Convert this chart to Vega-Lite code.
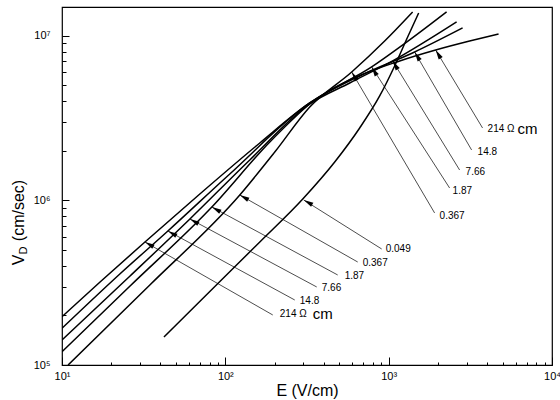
{
  "$schema": "https://vega.github.io/schema/vega-lite/v6.json",
  "width": 490,
  "height": 358,
  "autosize": {"type": "none"},
  "padding": {"left": 62, "top": 7, "right": 8, "bottom": 35},
  "background": "white",
  "config": {
    "font": "Liberation Sans",
    "view": {"stroke": "black", "strokeWidth": 1.2},
    "axis": {
      "domain": false,
      "grid": false,
      "tickColor": "black",
      "tickWidth": 1,
      "labelColor": "black",
      "titleColor": "black",
      "labelFont": "Liberation Sans",
      "titleFont": "Liberation Sans",
      "titleFontWeight": "normal"
    }
  },
  "datasets": {
    "curves": [
      {"rho": "214", "E": 10, "v": 196600},
      {"rho": "214", "E": 17.1, "v": 319600},
      {"rho": "214", "E": 32.2, "v": 559400},
      {"rho": "214", "E": 69.8, "v": 1095000},
      {"rho": "214", "E": 162.6, "v": 2237000},
      {"rho": "214", "E": 328.7, "v": 3915000},
      {"rho": "214", "E": 577.5, "v": 5400000},
      {"rho": "214", "E": 1168, "v": 7050000},
      {"rho": "214", "E": 1939, "v": 8220000},
      {"rho": "214", "E": 3130, "v": 9320000},
      {"rho": "214", "E": 4708, "v": 10290000},

      {"rho": "14.8", "E": 10, "v": 167200},
      {"rho": "14.8", "E": 22.6, "v": 357400},
      {"rho": "14.8", "E": 44.5, "v": 652600},
      {"rho": "14.8", "E": 106.5, "v": 1449000},
      {"rho": "14.8", "E": 328.7, "v": 3915000},
      {"rho": "14.8", "E": 664.6, "v": 5710000},
      {"rho": "14.8", "E": 1442, "v": 7990000},
      {"rho": "14.8", "E": 2836, "v": 11190000},

      {"rho": "7.66", "E": 10, "v": 141900},
      {"rho": "7.66", "E": 26.1, "v": 347500},
      {"rho": "7.66", "E": 60.7, "v": 772000},
      {"rho": "7.66", "E": 141.2, "v": 1763000},
      {"rho": "7.66", "E": 328.7, "v": 3861000},
      {"rho": "7.66", "E": 577.5, "v": 5180000},
      {"rho": "7.66", "E": 1058, "v": 7050000},
      {"rho": "7.66", "E": 2606, "v": 12170000},

      {"rho": "1.87", "E": 10, "v": 120500},
      {"rho": "1.87", "E": 26.1, "v": 302100},
      {"rho": "1.87", "E": 82.7, "v": 913000},
      {"rho": "1.87", "E": 187.2, "v": 2268000},
      {"rho": "1.87", "E": 328.7, "v": 3861000},
      {"rho": "1.87", "E": 787, "v": 6480000},
      {"rho": "1.87", "E": 1344, "v": 9460000},
      {"rho": "1.87", "E": 2263, "v": 14000000},

      {"rho": "0.367", "E": 10.9, "v": 100000},
      {"rho": "0.367", "E": 34.5, "v": 306400},
      {"rho": "0.367", "E": 122.6, "v": 1080000},
      {"rho": "0.367", "E": 200.8, "v": 1971000},
      {"rho": "0.367", "E": 328.7, "v": 3702000},
      {"rho": "0.367", "E": 593.9, "v": 6040000},
      {"rho": "0.367", "E": 945.2, "v": 9320000},
      {"rho": "0.367", "E": 1402, "v": 14000000},

      {"rho": "0.049", "E": 42.1, "v": 148000},
      {"rho": "0.049", "E": 92.6, "v": 321800},
      {"rho": "0.049", "E": 162.6, "v": 559400},
      {"rho": "0.049", "E": 297.9, "v": 1021000},
      {"rho": "0.049", "E": 467.4, "v": 1714000},
      {"rho": "0.049", "E": 664.6, "v": 2759000},
      {"rho": "0.049", "E": 881, "v": 4318000},
      {"rho": "0.049", "E": 1088, "v": 6570000},
      {"rho": "0.049", "E": 1307, "v": 9860000},
      {"rho": "0.049", "E": 1527, "v": 13800000}
    ],
    "leaders": [
      {"id": "low-214", "grp": "low", "end": "tip", "E": 32.2, "v": 559400},
      {"id": "low-214", "grp": "low", "end": "tail", "E": 195.2, "v": 201400},
      {"id": "low-14.8", "grp": "low", "end": "tip", "E": 44.5, "v": 652600},
      {"id": "low-14.8", "grp": "low", "end": "tail", "E": 266.1, "v": 248400},
      {"id": "low-7.66", "grp": "low", "end": "tip", "E": 60.7, "v": 772000},
      {"id": "low-7.66", "grp": "low", "end": "tail", "E": 362.7, "v": 298000},
      {"id": "low-1.87", "grp": "low", "end": "tip", "E": 82.7, "v": 913000},
      {"id": "low-1.87", "grp": "low", "end": "tail", "E": 487.5, "v": 352500},
      {"id": "low-0.367", "grp": "low", "end": "tip", "E": 122.6, "v": 1080000},
      {"id": "low-0.367", "grp": "low", "end": "tail", "E": 646.4, "v": 422700},
      {"id": "low-0.049", "grp": "low", "end": "tip", "E": 302, "v": 1007000},
      {"id": "low-0.049", "grp": "low", "end": "tail", "E": 906.2, "v": 507300},

      {"id": "high-0.367", "grp": "high", "end": "tip", "E": 593.9, "v": 6040000},
      {"id": "high-0.367", "grp": "high", "end": "tail", "E": 1911, "v": 840000},
      {"id": "high-1.87", "grp": "high", "end": "tip", "E": 787, "v": 6480000},
      {"id": "high-1.87", "grp": "high", "end": "tail", "E": 2361, "v": 1191000},
      {"id": "high-7.66", "grp": "high", "end": "tip", "E": 1058, "v": 7050000},
      {"id": "high-7.66", "grp": "high", "end": "tail", "E": 2719, "v": 1532000},
      {"id": "high-14.8", "grp": "high", "end": "tip", "E": 1442, "v": 7990000},
      {"id": "high-14.8", "grp": "high", "end": "tail", "E": 3219, "v": 2028000},
      {"id": "high-214", "grp": "high", "end": "tip", "E": 1939, "v": 8220000},
      {"id": "high-214", "grp": "high", "end": "tail", "E": 3757, "v": 2759000}
    ],
    "labels": [
      {"text": "214 Ω", "E": 215.4, "v": 204200},
      {"text": "14.8", "E": 285.6, "v": 244900},
      {"text": "7.66", "E": 389.2, "v": 293800},
      {"text": "1.87", "E": 538.2, "v": 347500},
      {"text": "0.367", "E": 693.5, "v": 417000},
      {"text": "0.049", "E": 958.7, "v": 507000},
      {"text": "214 Ω", "E": 4032, "v": 2720000},
      {"text": "14.8", "E": 3503, "v": 1971000},
      {"text": "7.66", "E": 2957, "v": 1491000},
      {"text": "1.87", "E": 2463, "v": 1143000},
      {"text": "0.367", "E": 2051, "v": 805000}
    ],
    "units": [
      {"text": "cm", "E": 342.9, "v": 204200},
      {"text": "cm", "E": 6152, "v": 2720000}
    ]
  },
  "resolve": {"axis": {"x": "independent", "y": "independent"}},
  "layer": [
    {
      "data": {"name": "curves"},
      "mark": {"type": "line", "color": "black", "strokeWidth": 1.5, "interpolate": "monotone", "clip": true},
      "encoding": {
        "x": {
          "field": "E", "type": "quantitative",
          "scale": {"type": "log", "domain": [10, 10000]},
          "axis": {
            "orient": "bottom",
            "values": [10, 100, 1000, 10000],
            "labelExpr": "datum.value == 10 ? '10¹' : datum.value == 100 ? '10²' : datum.value == 1000 ? '10³' : '10⁴'",
            "tickSize": -8,
            "labelPadding": 13,
            "labelFontSize": 11,
            "labelFlush": false,
            "labelOverlap": false,
            "title": "E (V/cm)",
            "titleFontSize": 16,
            "titleY": 30,
            "titleBaseline": "alphabetic"
          }
        },
        "y": {
          "field": "v", "type": "quantitative",
          "scale": {"type": "log", "domain": [100000, 15000000]},
          "axis": {
            "orient": "left",
            "values": [100000, 1000000, 10000000],
            "labelExpr": "datum.value == 100000 ? '10⁵' : datum.value == 1000000 ? '10⁶' : '10⁷'",
            "tickSize": -7,
            "labelPadding": 19,
            "labelFontSize": 11,
            "labelFlush": false,
            "labelOverlap": false,
            "title": "V\u00a0\u00a0\u00a0(cm/sec)",
            "titleFontSize": 16,
            "titleX": -44,
            "titleY": 215,
            "titleAngle": -90,
            "titleAlign": "center",
            "titleBaseline": "middle"
          }
        },
        "detail": {"field": "rho", "type": "nominal"}
      }
    },
    {
      "data": {"name": "leaders"},
      "mark": {"type": "line", "color": "black", "strokeWidth": 0.7},
      "encoding": {
        "x": {
          "field": "E", "type": "quantitative",
          "scale": {"type": "log", "domain": [10, 10000]},
          "axis": {
            "orient": "bottom",
            "values": [20, 30, 40, 50, 60, 70, 80, 90, 200, 300, 400, 500, 600, 700, 800, 900, 2000, 3000, 4000, 5000, 6000, 7000, 8000, 9000],
            "labels": false,
            "tickSize": -3,
            "title": null
          }
        },
        "y": {
          "field": "v", "type": "quantitative",
          "scale": {"type": "log", "domain": [100000, 15000000]},
          "axis": {
            "orient": "left",
            "values": [200000, 300000, 400000, 500000, 600000, 700000, 800000, 900000, 2000000, 3000000, 4000000, 5000000, 6000000, 7000000, 8000000, 9000000],
            "labels": false,
            "tickSize": -4,
            "title": null
          }
        },
        "detail": {"field": "id", "type": "nominal"}
      }
    },
    {
      "data": {"name": "leaders"},
      "transform": [{"filter": "datum.end == 'tip' && datum.grp == 'low'"}],
      "mark": {"type": "point", "shape": "M0,0L1,-0.24L1,0.24Z", "filled": true, "color": "black", "opacity": 1, "size": 380, "angle": 29.5},
      "encoding": {
        "x": {"field": "E", "type": "quantitative", "scale": {"type": "log", "domain": [10, 10000]}, "axis": null},
        "y": {"field": "v", "type": "quantitative", "scale": {"type": "log", "domain": [100000, 15000000]}, "axis": null}
      }
    },
    {
      "data": {"name": "leaders"},
      "transform": [{"filter": "datum.end == 'tip' && datum.grp == 'high'"}],
      "mark": {"type": "point", "shape": "M0,0L1,-0.24L1,0.24Z", "filled": true, "color": "black", "opacity": 1, "size": 380, "angle": 58.7},
      "encoding": {
        "x": {"field": "E", "type": "quantitative", "scale": {"type": "log", "domain": [10, 10000]}, "axis": null},
        "y": {"field": "v", "type": "quantitative", "scale": {"type": "log", "domain": [100000, 15000000]}, "axis": null}
      }
    },
    {
      "data": {"name": "labels"},
      "mark": {"type": "text", "align": "left", "baseline": "middle", "fontSize": 10, "color": "black"},
      "encoding": {
        "x": {"field": "E", "type": "quantitative", "scale": {"type": "log", "domain": [10, 10000]}, "axis": null},
        "y": {"field": "v", "type": "quantitative", "scale": {"type": "log", "domain": [100000, 15000000]}, "axis": null},
        "text": {"field": "text", "type": "nominal"}
      }
    },
    {
      "data": {"name": "units"},
      "mark": {"type": "text", "align": "left", "baseline": "middle", "fontSize": 15, "color": "black"},
      "encoding": {
        "x": {"field": "E", "type": "quantitative", "scale": {"type": "log", "domain": [10, 10000]}, "axis": null},
        "y": {
          "field": "v", "type": "quantitative",
          "scale": {"type": "log", "domain": [100000, 15000000]},
          "axis": {
            "orient": "left",
            "labels": false,
            "ticks": false,
            "domain": false,
            "grid": false,
            "title": "D",
            "titleFontSize": 11,
            "titleX": -39,
            "titleY": 243,
            "titleAngle": -90,
            "titleAlign": "center",
            "titleBaseline": "middle"
          }
        },
        "text": {"field": "text", "type": "nominal"}
      }
    }
  ]
}
